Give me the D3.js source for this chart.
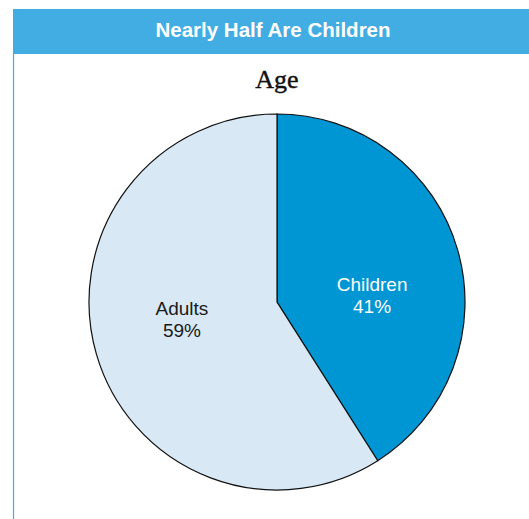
<!DOCTYPE html>
<html>
<head>
<meta charset="utf-8">
<script src="https://cdn.jsdelivr.net/npm/d3@7"></script>
<style>
  body { margin: 0; background: #fff; }
</style>
</head>
<body>
<div id="container"></div>
<script>
// data
let categories = ['Children', 'Adults']
let shares = [41, 59]
let colors = ['#0095d3', '#d8e9f5']
let labelColors = ['#ffffff', '#1a1a1a']
// vertical nudge of each label block from its slice centroid
let labelNudge = [22, -10]

let width = 529
let height = 519
let cx = 277
let cy = 302
let radius = 188

let svg = d3.select('#container').append('svg')
  .attr('width', width)
  .attr('height', height)

// header band
svg.append('rect')
  .attr('x', 13).attr('y', 9)
  .attr('width', width - 13).attr('height', 45)
  .style('fill', '#42ade2')

svg.append('text')
  .attr('x', 273).attr('y', 37)
  .attr('text-anchor', 'middle')
  .style('font-family', 'Liberation Sans, Arial, sans-serif')
  .style('font-weight', 'bold')
  .style('font-size', '20.5px')
  .style('fill', '#fff')
  .text('Nearly Half Are Children')

// left rule
svg.append('line')
  .attr('x1', 13.5).attr('x2', 13.5)
  .attr('y1', 54).attr('y2', height)
  .style('stroke', '#42ade2')
  .style('stroke-width', 1.2)

svg.append('text')
  .attr('x', cx).attr('y', 88)
  .attr('text-anchor', 'middle')
  .style('font-family', 'Liberation Serif, Times New Roman, serif')
  .style('font-size', '26px')
  .style('fill', '#111')
  .style('stroke', '#111')
  .style('stroke-width', 0.4)
  .text('Age')

let data = categories.map((c, i) => ({ name: c, value: shares[i], color: colors[i], lc: labelColors[i], nudge: labelNudge[i] }))

let pie = d3.pie().sort(null).value(d => d.value)
let arc = d3.arc().innerRadius(0).outerRadius(radius)
let labelArc = d3.arc().innerRadius(99).outerRadius(99)

let g = svg.append('g').attr('transform', `translate(${cx},${cy})`)

let slices = pie(data)

g.selectAll('path')
  .data(slices)
  .enter()
  .append('path')
  .attr('d', arc)
  .style('fill', d => d.data.color)
  .style('stroke', '#111')
  .style('stroke-width', 1.2)

let labels = g.selectAll('text.lbl')
  .data(slices)
  .enter()
  .append('text')
  .attr('class', 'lbl')
  .attr('text-anchor', 'middle')
  .attr('transform', d => {
    let p = labelArc.centroid(d)
    return `translate(${p[0]},${p[1] + d.data.nudge})`
  })
  .style('font-family', 'Liberation Sans, Arial, sans-serif')
  .style('font-size', '19px')
  .style('fill', d => d.data.lc)

labels.append('tspan').attr('x', 0).attr('y', -5).text(d => d.data.name)
labels.append('tspan').attr('x', 0).attr('y', 17).text(d => d.data.value + '%')
</script>
</body>
</html>
